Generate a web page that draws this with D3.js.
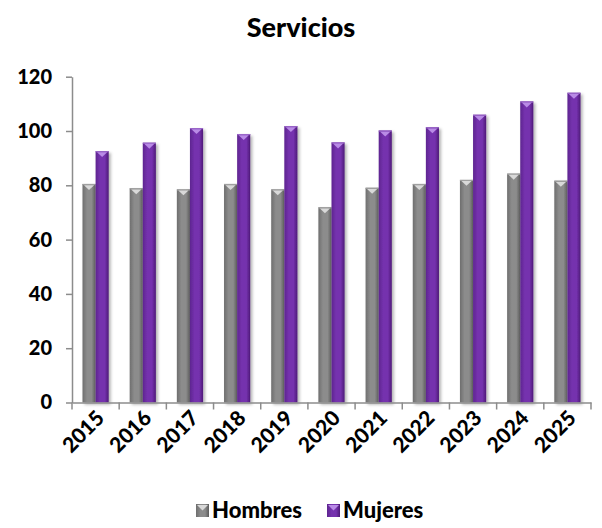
<!DOCTYPE html>
<html><head><meta charset="utf-8">
<script src="https://cdn.jsdelivr.net/npm/d3@7"></script>
<style>body{margin:0;background:#fff}svg{display:block}</style>
</head><body><svg id="c" width="602" height="528"></svg>
<script>
const years = ["2015","2016","2017","2018","2019","2020","2021","2022","2023","2024","2025"];
const hombres = [80.5, 78.9, 78.5, 80.5, 78.5, 71.9, 79.1, 80.5, 82.0, 84.3, 81.7];
const mujeres = [92.6, 95.7, 101.1, 98.9, 101.8, 95.8, 100.2, 101.4, 106.0, 110.9, 114.1];
const series = ["Hombres","Mujeres"];
const yTicks = [0,20,40,60,80,100,120];
const title = "Servicios";

const svg = d3.select("#c");
const FONT = "Lato, 'Open Sans', sans-serif";
const W = 900;
const x = d3.scaleBand().domain(years).range([72,591]).padding(0);
const x1 = d3.scaleBand().domain(series).range([0,x.bandwidth()]).paddingInner(0).paddingOuter(0.8);
const y = d3.scaleLinear().domain([0,120]).range([402.5,76.7]);

const defs = svg.append("defs");
const pal = {
  Hombres:{l:"#6e6e6e",m:"#8c8c8c",r:"#5c5c5c",tri:"#d9d9d9",edge:"#a0a0a0"},
  Mujeres:{l:"#5e2590",m:"#7532ae",r:"#4e1a78",tri:"#b98be6",edge:"#9a66c8"}
};
series.forEach(s=>{
  const g = defs.append("linearGradient").attr("id","g"+s).attr("x1","0").attr("x2","1").attr("y1","0").attr("y2","0");
  g.append("stop").attr("offset","0").attr("stop-color",pal[s].l);
  g.append("stop").attr("offset","0.35").attr("stop-color",pal[s].m);
  g.append("stop").attr("offset","0.7").attr("stop-color",pal[s].m);
  g.append("stop").attr("offset","1").attr("stop-color",pal[s].r);
});
const f = defs.append("filter").attr("id","sh").attr("x","-30%").attr("y","-10%").attr("width","180%").attr("height","130%");
f.append("feDropShadow").attr("dx",2).attr("dy",2).attr("stdDeviation",1.6).attr("flood-color","#000").attr("flood-opacity",0.3);

// title
svg.append("text").attr("x",301).attr("y",37).attr("text-anchor","middle")
  .attr("font-family",FONT).attr("font-weight",W).attr("font-size",27).attr("fill","#000").text(title);

// bars
const data = years.map((yr,i)=>({yr, vals:[{s:"Hombres",v:hombres[i]},{s:"Mujeres",v:mujeres[i]}]}));
const gb = svg.append("g");
data.forEach(d=>{
  d.vals.forEach(b=>{
    const bx = x(d.yr)+x1(b.s), bw = x1.bandwidth(), by = y(b.v), bh = y(0)-y(b.v);
    const g = gb.append("g").attr("filter","url(#sh)");
    g.append("rect").attr("x",bx).attr("y",by).attr("width",bw).attr("height",bh).attr("fill",`url(#g${b.s})`);
    g.append("rect").attr("x",bx).attr("y",by).attr("width",bw).attr("height",1.2).attr("fill",pal[b.s].edge);
    g.append("path").attr("d",`M${bx+1.5},${by+1.2}L${bx+bw-1.5},${by+1.2}L${bx+bw/2},${by+6}Z`).attr("fill",pal[b.s].tri);
  });
});

// y axis
const axisColor = "#8c8c8c";
const ya = svg.append("g").attr("transform","translate(72,0)").call(d3.axisLeft(y).tickValues(yTicks).tickSize(6).tickSizeOuter(0).tickPadding(14));
ya.select(".domain").attr("stroke",axisColor).attr("stroke-width",1.5);
ya.selectAll(".tick line").attr("stroke",axisColor).attr("stroke-width",1.5);
ya.selectAll("text").attr("font-family",FONT).attr("font-weight",W).attr("font-size",20).attr("fill","#000");

// x axis
const xa = svg.append("g").attr("transform",`translate(0,${y(0)})`).call(d3.axisBottom(x).tickSize(0).tickSizeOuter(0).tickPadding(0));
xa.select(".domain").attr("stroke",axisColor).attr("stroke-width",1.5);
xa.selectAll(".tick text").attr("font-family",FONT).attr("font-weight",W).attr("font-size",21).attr("fill","#000")
  .attr("text-anchor","end").attr("dy",0).attr("transform","translate(10,17) rotate(-45)");
const bounds = years.map(d=>x(d)).concat([x.range()[1]]);
svg.append("g").selectAll("line").data(bounds).join("line")
  .attr("x1",d=>d).attr("x2",d=>d).attr("y1",y(0)).attr("y2",y(0)+7)
  .attr("stroke",axisColor).attr("stroke-width",1.5);

// legend
const leg = svg.append("g");
const legItems = [{s:"Hombres",x:196},{s:"Mujeres",x:327}];
legItems.forEach(it=>{
  const g = leg.append("g").attr("transform",`translate(${it.x},504)`);
  g.append("rect").attr("width",13).attr("height",13).attr("fill",`url(#g${it.s})`);
  g.append("path").attr("d","M1,1L12,1L6.5,6.5Z").attr("fill",pal[it.s].tri);
  g.append("text").attr("x",16).attr("y",14).attr("font-family",FONT).attr("font-weight",W).attr("font-size",22).attr("fill","#000").text(it.s);
});
</script></body></html>
